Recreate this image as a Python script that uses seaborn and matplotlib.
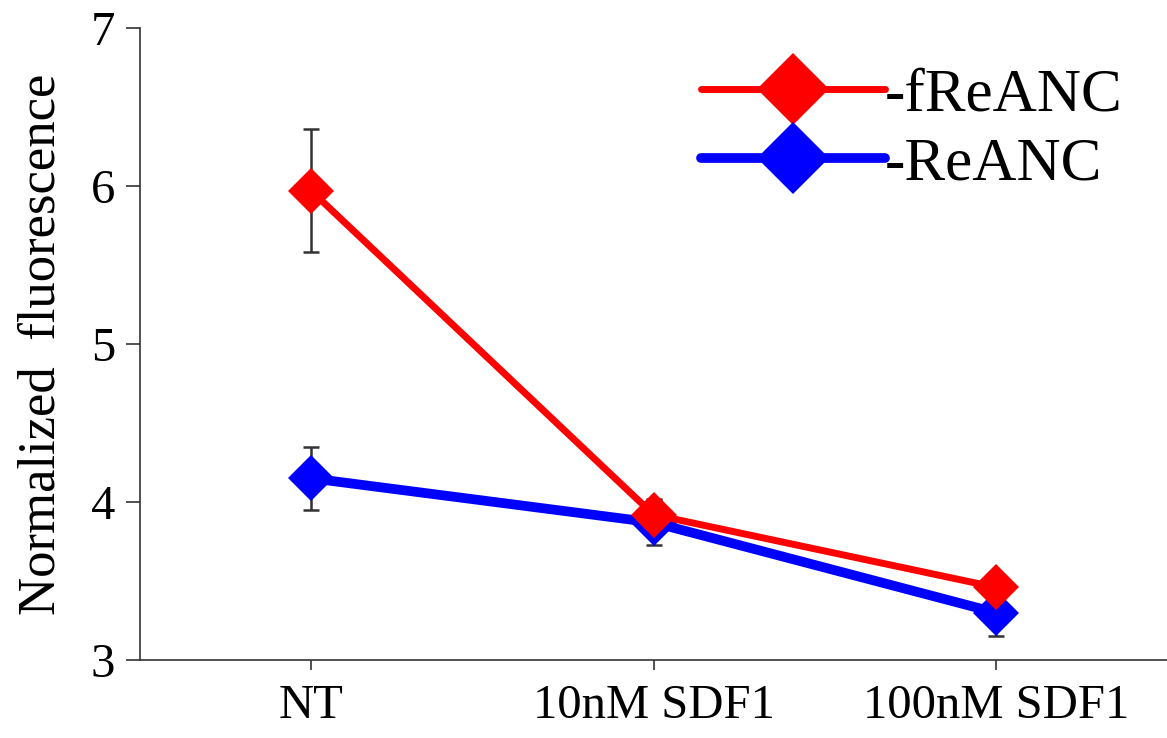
import pandas as pd
import numpy as np
import matplotlib
matplotlib.use("Agg")
import matplotlib.pyplot as plt
from matplotlib.lines import Line2D
import seaborn as sns

# Data
conditions = ["NT", "10nM SDF1", "100nM SDF1"]
freanc_mean = [5.97, 3.92, 3.46]
freanc_err = [0.39, 0.10, 0.06]
reanc_mean = [4.15, 3.87, 3.30]
reanc_err = [0.20, 0.14, 0.15]
series_names = ["-fReANC", "-ReANC"]
series_colors = ["#ff0000", "#0000ff"]

df = pd.DataFrame({
    "condition": conditions * 2,
    "value": freanc_mean + reanc_mean,
    "err": freanc_err + reanc_err,
    "series": [series_names[0]] * 3 + [series_names[1]] * 3,
})

sns.set_style("ticks")
plt.rcParams["font.family"] = ["Liberation Serif", "DejaVu Serif"]
plt.rcParams["text.color"] = "black"
plt.rcParams["axes.labelcolor"] = "black"
plt.rcParams["xtick.labelcolor"] = "black"
plt.rcParams["ytick.labelcolor"] = "black"

fig = plt.figure(figsize=(11.67, 7.38), dpi=100)
ax = fig.add_axes([0.12, 0.1057, 0.88, 0.8563])

# Error bars beneath the lines
for name in series_names:
    sub = df[df["series"] == name]
    ax.errorbar(sub["condition"], sub["value"], yerr=sub["err"], fmt="none",
                ecolor="#333333", elinewidth=1.8, capsize=6, capthick=1.8, zorder=1)

# blue first, red on top
widths = {series_names[0]: 5, series_names[1]: 7}
for name, color in reversed(list(zip(series_names, series_colors))):
    sub = df[df["series"] == name]
    sns.lineplot(data=sub, x="condition", y="value", color=color, lw=widths[name],
                 marker="D", markersize=23, markeredgewidth=0, ax=ax, zorder=3)

ax.set_xlim(-0.5, 2.5)
ax.set_ylim(3, 7)
ax.set_yticks([3, 4, 5, 6, 7])
ax.set_xlabel("")
ax.set_ylabel("Normalized  fluorescence", fontsize=38, labelpad=18)
ax.tick_params(axis="both", labelsize=35, direction="out", width=1.2, color="#333333")
ax.tick_params(axis="y", length=10, pad=8)
ax.tick_params(axis="x", length=7, pad=10)
for s in ["top", "right"]:
    ax.spines[s].set_visible(False)
for s in ["left", "bottom"]:
    ax.spines[s].set_color("#333333")
    ax.spines[s].set_linewidth(1.2)

handles = [Line2D([], [], color=c, lw=widths[n], marker="D", markersize=37, markeredgewidth=0)
           for n, c in zip(series_names, series_colors)]
ax.legend(handles, series_names, loc="upper right", frameon=False, fontsize=44,
          handlelength=3.0, handletextpad=0.0, labelspacing=0.22,
          bbox_to_anchor=(1.01, 1.025))

fig.savefig("out.png", dpi=100)
